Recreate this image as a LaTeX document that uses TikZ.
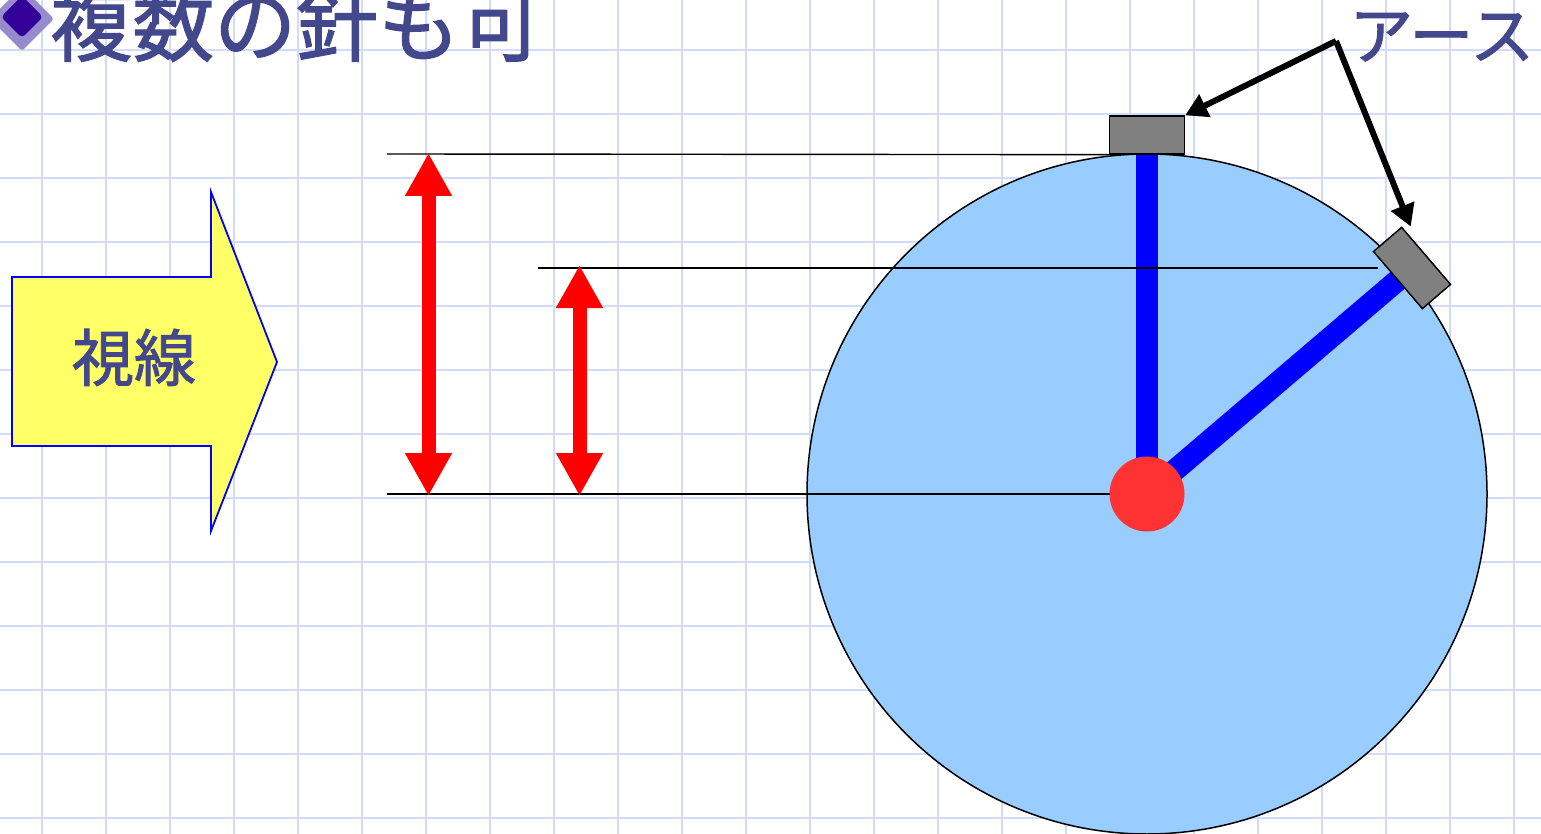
\documentclass[tikz,border=0pt]{standalone}
\usepackage{fontspec}
\newfontfamily\jp[FakeBold=1.5]{Noto Sans CJK JP}
\usetikzlibrary{arrows.meta}
\definecolor{gridc}{RGB}{208,220,250}
\definecolor{txt}{RGB}{67,72,140}
\definecolor{sky}{RGB}{153,204,255}
\definecolor{yel}{RGB}{255,255,102}
\definecolor{dotred}{RGB}{255,51,51}
\definecolor{bulletc}{RGB}{51,0,153}
\definecolor{bulletb}{RGB}{150,140,205}
\tikzset{
  gridline/.style={gridc,line width=2},
  guide/.style={black,line width=1.4},
  needle/.style={blue,line width=22},
  earthbox/.style={draw=black,fill=gray,line width=1.3,inner sep=0,rectangle},
  redarrow/.style={red,line width=14,{Triangle[width=44,length=43]}-{Triangle[width=44,length=43]}},
  pointer/.style={black,line width=6,-{Triangle[width=24,length=22]}},
  jptext/.style={txt,inner sep=0}
}
\begin{document}
\begin{tikzpicture}[x=1pt,y=-1pt]
\useasboundingbox (0,0) rectangle (1541,834);
\fill[white] (0,0) rectangle (1541,834);
% grid
\foreach \x in {42,106,...,1514} \draw[gridline] (\x,0) -- (\x,834);
\foreach \y in {50,114,...,818} \draw[gridline] (0,\y) -- (1541,\y);
% globe
\node[circle,draw=black,fill=sky,line width=1.5,minimum size=680,inner sep=0] (globe) at (1147,494) {};
\coordinate (hubc) at (1147,494);
\node[earthbox,minimum width=75,minimum height=38] (topbox) at (1147,135) {};
\node[earthbox,minimum width=75,minimum height=37,rotate=-49.4] (tiltbox) at (1412,268) {};
% needles
\draw[needle] (hubc) -- (topbox.south);
\draw[needle] (hubc) -- (tiltbox.center);
% guide lines
\coordinate (g1) at (387,154);
\coordinate (g2) at (538,268);
\coordinate (g3) at (387,494);
\coordinate (g2e) at (1378,268);
\draw[guide] (g1) -- (topbox.south west);
\draw[guide] (g2) -- (g2e);
\draw[guide] (g3) -- (hubc);
% boxes on top
\node[earthbox,minimum width=75,minimum height=38] at (topbox.center) {};
\node[earthbox,minimum width=75,minimum height=37,rotate=-49.4] at (tiltbox.center) {};
% hub
\node[circle,fill=dotred,minimum size=75,inner sep=0] (hub) at (hubc) {};
% pointers
\coordinate (apex) at (1336,41);
\draw[pointer,line join=miter] (apex) -- (topbox.north east);
\draw[pointer] (apex) -- ([xshift=9]tiltbox.north west);
% red arrows
\coordinate (r1t) at (428.5,153);
\coordinate (r1b) at (428.5,496);
\coordinate (r2t) at (579.5,265);
\coordinate (r2b) at (579.5,496);
\draw[redarrow] (r1t) -- (r1b);
\draw[redarrow] (r2t) -- (r2b);
% yellow arrow
\draw[blue,fill=yel,line width=1.8,line join=miter] (12,277) -- (211,277) -- (211,192) -- (277,362) -- (211,531) -- (211,446) -- (12,446) -- cycle;
\node[jptext,anchor=base,font=\jp\fontsize{62}{74}\selectfont] (eye) at (134,381) {視線};
% bullet
\fill[bulletb,rounded corners=3] (22,-13) -- (54,19) -- (22,51) -- (-10,19) -- cycle;
\fill[bulletc,rounded corners=4] (22,-4) -- (43,17) -- (22,38) -- (1,17) -- cycle;
% title
\node[jptext,anchor=base west,font=\jp\fontsize{82}{98}\selectfont] (title) at (50,55) {複数の針も可};
\node[jptext,anchor=base west,font=\jp\fontsize{64}{76}\selectfont] (earthlbl) at (1349,59) {アース};
\end{tikzpicture}
\end{document}
